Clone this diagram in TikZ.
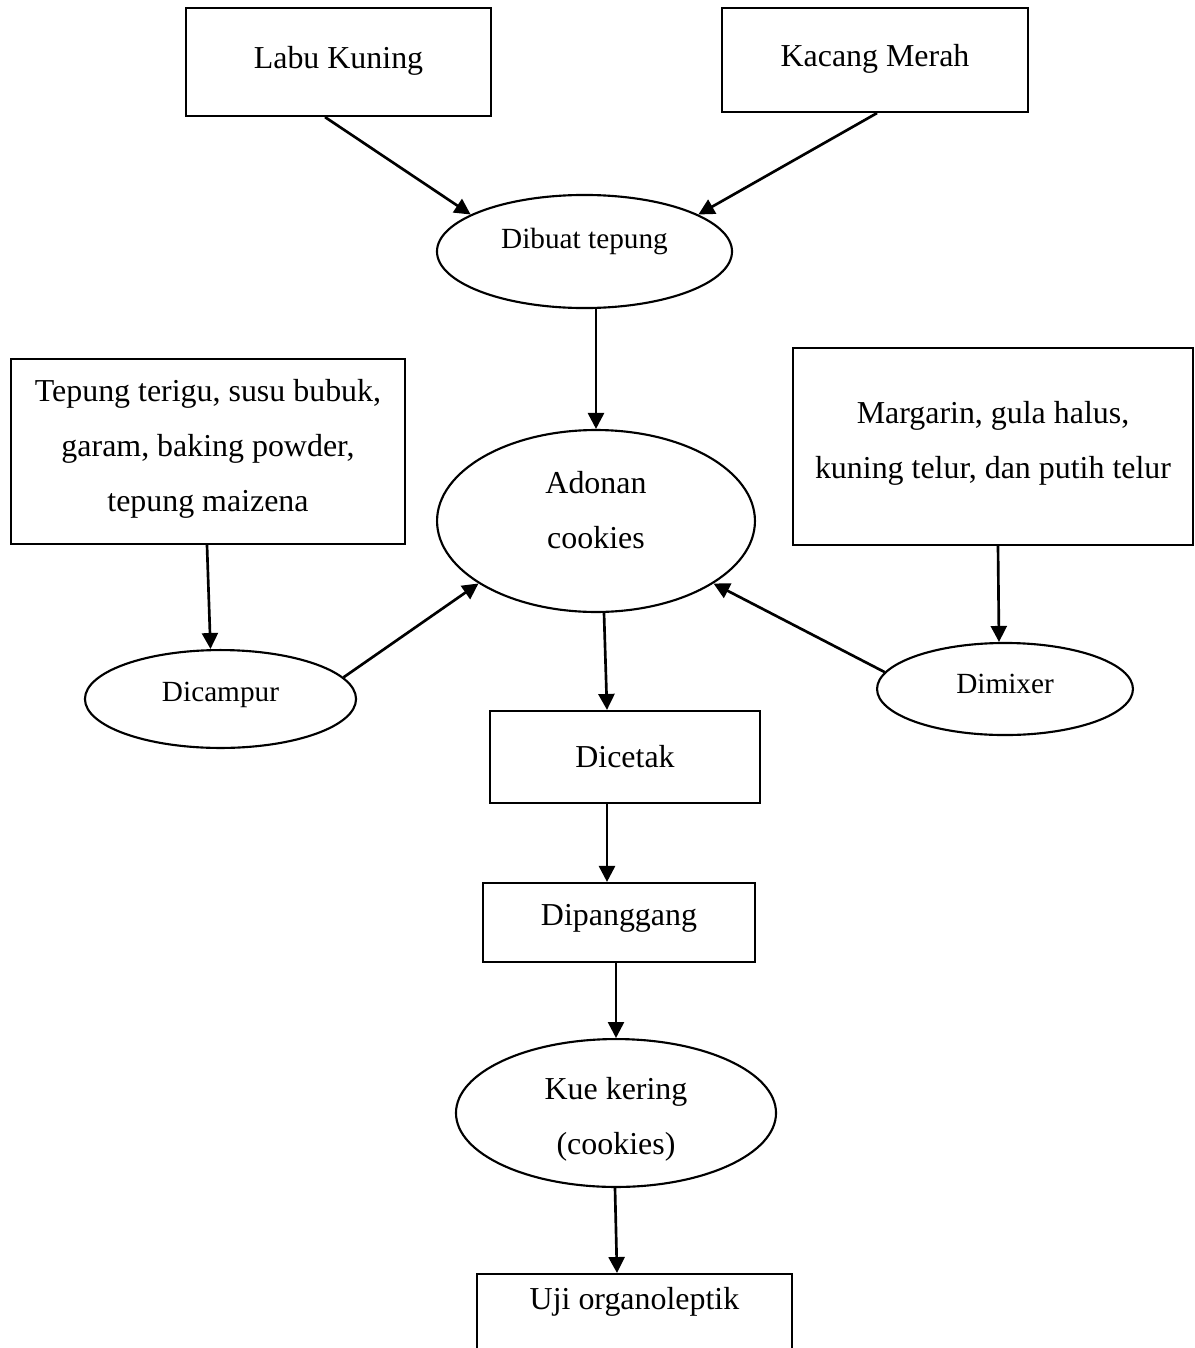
\documentclass[tikz,border=0pt]{standalone}
\usepackage{fontspec}
\setmainfont{Liberation Serif}
\usetikzlibrary{positioning,shapes.geometric,arrows.meta,calc}

\begin{document}
\begin{tikzpicture}[
    x=0.3759pt, y=-0.3759pt,
    box/.style={rectangle, draw, line width=0.8pt, align=center, font=\fontsize{12}{20.7}\selectfont},
    oval/.style={ellipse, draw, line width=0.8pt, align=center, inner sep=0pt, font=\fontsize{12}{20.7}\selectfont},
    smalloval/.style={oval, font=\fontsize{11}{13}\selectfont},
    arrow/.style={-{Triangle[length=6pt, width=6pt]}, line width=1pt}
]
\useasboundingbox (0,0) rectangle (1195,1348);
\clip (0,0) rectangle (1195,1348);

% Raw materials
\node[box, minimum width=114.7pt, minimum height=40.6pt, text depth=3.6pt] (labu) at (338.5,62) {Labu Kuning};
\node[box, minimum width=115pt, minimum height=39.1pt, text depth=3.6pt] (kacang) at (875,60) {Kacang Merah};
\node[smalloval, minimum width=110.9pt, minimum height=42.5pt, text depth=10pt] (tepung) at (584.5,251.5) {Dibuat tepung};

% Other ingredients
\node[box, minimum width=148.1pt, minimum height=69.5pt, text depth=4.8pt] (bahan) at (208,451.5) {Tepung terigu, susu bubuk,\\garam, baking powder,\\tepung maizena};
\node[box, minimum width=150.4pt, minimum height=74.1pt, text depth=5pt] (margarin) at (993,446.5) {Margarin, gula halus,\\kuning telur, dan putih telur};
\node[oval, minimum width=119.5pt, minimum height=68.4pt, text depth=8pt] (adonan) at (596,521) {Adonan\\cookies};
\node[smalloval, minimum width=101.9pt, minimum height=36.8pt, text depth=5.2pt] (campur) at (220.5,699) {Dicampur};
\node[smalloval, minimum width=96.2pt, minimum height=34.6pt, text depth=4pt] (mixer) at (1005,689) {Dimixer};

% Process chain
\node[box, minimum width=101.5pt, minimum height=34.6pt] (cetak) at (625,757) {Dicetak};
\node[box, minimum width=102.2pt, minimum height=29.7pt, text depth=5.6pt] (panggang) at (619,922.5) {Dipanggang};
\node[oval, minimum width=120.3pt, minimum height=55.6pt, text height=33.5pt] (kue) at (616,1113) {Kue kering\\(cookies)};
\node[box, anchor=north, minimum width=118.4pt, text height=10pt, text depth=26pt] (uji) at (634.5,1273) {Uji organoleptik};

% Flour
\draw[arrow] ($(labu.south)+(-13.5,0)$) -- (tepung.162);
\draw[arrow] ($(kacang.south)+(2,0)$) -- (tepung.18);
\draw[arrow] (tepung.south -| adonan.north) -- (adonan.north);

% Side branches
\draw[arrow] ($(bahan.south)+(-1,0)$) -- ($(campur.north)+(-10,0)$);
\draw[arrow] ($(margarin.south)+(5,0)$) -- ($(mixer.north)+(-6,0)$);
\draw[arrow] (campur.10) -- (adonan.208);
\draw[arrow] (mixer.172) -- (adonan.332);

% Down to the end
\draw[arrow] ($(adonan.south)+(8,0)$) -- ($(cetak.north)+(-18,0)$);
\draw[arrow] ($(cetak.south)+(-18,0)$) -- ($(panggang.north)+(-12,0)$);
\draw[arrow] (panggang.south -| kue.north) -- (kue.north);
\draw[arrow] ($(kue.south)+(-1,0)$) -- ($(uji.north)+(-17.5,0)$);

\end{tikzpicture}
\end{document}
